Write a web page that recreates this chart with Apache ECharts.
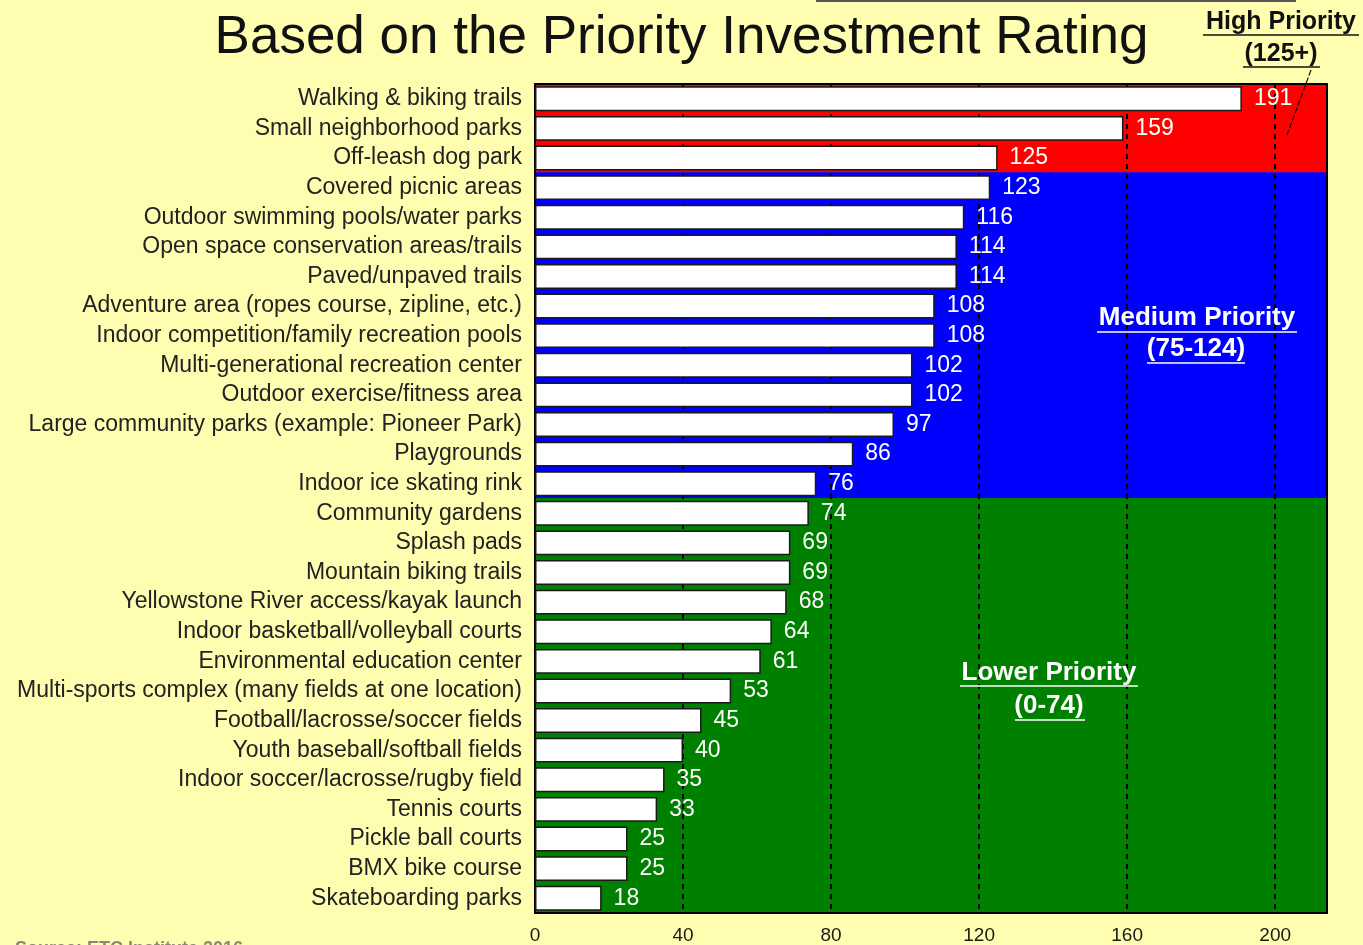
<!DOCTYPE html>
<html>
<head>
<meta charset="utf-8">
<script src="https://cdn.jsdelivr.net/npm/echarts@6/dist/echarts.min.js"></script>
<style>
  html, body { margin: 0; padding: 0; background: #FFFDB0; }
  #chart { width: 1363px; height: 945px; }
</style>
</head>
<body>
<div id="chart"></div>
<script>
// Amenities ranked by Priority Investment Rating (top to bottom)
const categories = [
  'Walking & biking trails',
  'Small neighborhood parks',
  'Off-leash dog park',
  'Covered picnic areas',
  'Outdoor swimming pools/water parks',
  'Open space conservation areas/trails',
  'Paved/unpaved trails',
  'Adventure area (ropes course, zipline, etc.)',
  'Indoor competition/family recreation pools',
  'Multi-generational recreation center',
  'Outdoor exercise/fitness area',
  'Large community parks (example: Pioneer Park)',
  'Playgrounds',
  'Indoor ice skating rink',
  'Community gardens',
  'Splash pads',
  'Mountain biking trails',
  'Yellowstone River access/kayak launch',
  'Indoor basketball/volleyball courts',
  'Environmental education center',
  'Multi-sports complex (many fields at one location)',
  'Football/lacrosse/soccer fields',
  'Youth baseball/softball fields',
  'Indoor soccer/lacrosse/rugby field',
  'Tennis courts',
  'Pickle ball courts',
  'BMX bike course',
  'Skateboarding parks'
];
const ratings = [191, 159, 125, 123, 116, 114, 114, 108, 108, 102, 102, 97, 86, 76,
                 74, 69, 69, 68, 64, 61, 53, 45, 40, 35, 33, 25, 25, 18];
const xTicks = [0, 40, 80, 120, 160, 200];
const xMax = 214;

// Priority tiers: lower bound of rating and band colour
const tierMin = { high: 125, medium: 75 };
const tierColor = { high: '#FF0000', medium: '#0000FF', lower: '#008000' };

function tierOf(v) {
  if (v >= tierMin.high) return 'high';
  if (v >= tierMin.medium) return 'medium';
  return 'lower';
}

// one full-width band row per category, coloured by its tier
const bandRows = ratings.map((v, i) => [i, tierColor[tierOf(v)]]);

function renderBand(params, api) {
  const idx = api.value(0);
  const left = api.coord([0, idx]);
  const right = api.coord([xMax, idx]);
  const h = api.size([0, 1])[1];
  return {
    type: 'rect',
    shape: { x: left[0], y: left[1] - h / 2 - 0.5, width: right[0] - left[0], height: h + 1 },
    style: { fill: bandRows[idx][1] }
  };
}

const chart = echarts.init(document.getElementById('chart'), null, { renderer: 'canvas' });

const labelFont = '"Liberation Sans", Arial, Helvetica, sans-serif';

const option = {
  backgroundColor: '#FFFDB0',
  animation: false,
  grid: { left: 535, top: 84, width: 792, height: 829, containLabel: false },
  xAxis: [
    {
      type: 'value', min: 0, max: xMax, interval: 40, position: 'bottom', z: 1,
      axisLine: { show: true, lineStyle: { color: '#000', width: 2 } },
      axisTick: { show: false },
      splitLine: { show: true, lineStyle: { color: '#000', type: [5, 5], width: 2 } },
      axisLabel: {
        color: '#1a1a1a', fontFamily: labelFont, fontSize: 19, margin: 13,
        showMaxLabel: false,
        formatter: v => (xTicks.indexOf(v) >= 0 ? String(v) : '')
      }
    },
    {
      type: 'value', min: 0, max: xMax, position: 'top', z: 1,
      axisLine: { show: true, onZero: false, lineStyle: { color: '#000', width: 2 } },
      axisTick: { show: false }, axisLabel: { show: false }, splitLine: { show: false }
    }
  ],
  yAxis: [
    {
      type: 'category', data: categories, inverse: true, position: 'left', z: 1,
      axisLine: { show: true, lineStyle: { color: '#000', width: 2 } },
      axisTick: { show: false },
      splitLine: { show: false },
      axisLabel: { interval: 0, color: '#222', fontFamily: labelFont, fontSize: 23, margin: 13 }
    },
    {
      type: 'category', data: categories, inverse: true, position: 'right', z: 1,
      axisLine: { show: true, onZero: false, lineStyle: { color: '#000', width: 2 } },
      axisTick: { show: false }, axisLabel: { show: false }, splitLine: { show: false }
    }
  ],
  series: [
    {
      // coloured priority bands behind the bars
      type: 'custom', xAxisIndex: 0, yAxisIndex: 0, z: 0,
      renderItem: renderBand,
      data: bandRows.map(r => [r[0]]),
      encode: { y: 0 },
      silent: true, clip: true
    },
    {
      type: 'bar', xAxisIndex: 0, yAxisIndex: 0, z: 2,
      barWidth: '84%',
      data: ratings,
      itemStyle: { color: '#FFFFFF', borderColor: '#1a1a1a', borderWidth: 1.5 },
      label: {
        show: true, position: 'right', distance: 12,
        color: '#FFFFFF', fontFamily: labelFont, fontSize: 23
      }
    }
  ],
  graphic: [
    {
      type: 'text', left: 'center', top: 12, z: 10,
      style: {
        text: 'Based on the Priority Investment Rating',
        fill: '#111', font: '53px ' + labelFont
      }
    },
    { type: 'line', z: 10, shape: { x1: 816, y1: 1, x2: 1296, y2: 1 }, style: { stroke: '#555', lineWidth: 2 } },
    // tier annotations
    { type: 'text', z: 10, style: { text: 'High Priority', x: 1281, y: 22, textAlign: 'center', textVerticalAlign: 'middle', fill: '#111', font: 'bold 25px ' + labelFont } },
    { type: 'line', z: 10, shape: { x1: 1203, y1: 35, x2: 1359, y2: 35 }, style: { stroke: '#111', lineWidth: 1.5 } },
    { type: 'text', z: 10, style: { text: '(125+)', x: 1281, y: 54, textAlign: 'center', textVerticalAlign: 'middle', fill: '#111', font: 'bold 25px ' + labelFont } },
    { type: 'line', z: 10, shape: { x1: 1243, y1: 67, x2: 1320, y2: 67 }, style: { stroke: '#111', lineWidth: 1.5 } },
    { type: 'line', z: 10, shape: { x1: 1311, y1: 70, x2: 1287, y2: 135 }, style: { stroke: '#111', lineWidth: 1.2, lineDash: [6, 2] } },

    { type: 'text', z: 10, style: { text: 'Medium Priority', x: 1197, y: 318, textAlign: 'center', textVerticalAlign: 'middle', fill: '#FFFFFF', font: 'bold 26px ' + labelFont } },
    { type: 'line', z: 10, shape: { x1: 1097, y1: 332, x2: 1297, y2: 332 }, style: { stroke: '#FFFFFF', lineWidth: 1.5 } },
    { type: 'text', z: 10, style: { text: '(75-124)', x: 1196, y: 349, textAlign: 'center', textVerticalAlign: 'middle', fill: '#FFFFFF', font: 'bold 26px ' + labelFont } },
    { type: 'line', z: 10, shape: { x1: 1147, y1: 363, x2: 1245, y2: 363 }, style: { stroke: '#FFFFFF', lineWidth: 1.5 } },

    { type: 'text', z: 10, style: { text: 'Lower Priority', x: 1049, y: 673, textAlign: 'center', textVerticalAlign: 'middle', fill: '#FFFFFF', font: 'bold 26px ' + labelFont } },
    { type: 'line', z: 10, shape: { x1: 960, y1: 686, x2: 1138, y2: 686 }, style: { stroke: '#FFFFFF', lineWidth: 1.5 } },
    { type: 'text', z: 10, style: { text: '(0-74)', x: 1049, y: 706, textAlign: 'center', textVerticalAlign: 'middle', fill: '#FFFFFF', font: 'bold 26px ' + labelFont } },
    { type: 'line', z: 10, shape: { x1: 1015, y1: 720, x2: 1085, y2: 720 }, style: { stroke: '#FFFFFF', lineWidth: 1.5 } },

    // source note along the bottom edge
    { type: 'text', z: 10, style: { text: 'Source: ETC Institute 2016', x: 15, y: 940, fill: '#8a8a7a', font: 'bold 18px ' + labelFont } }
  ]
};

chart.setOption(option);
</script>
</body>
</html>
